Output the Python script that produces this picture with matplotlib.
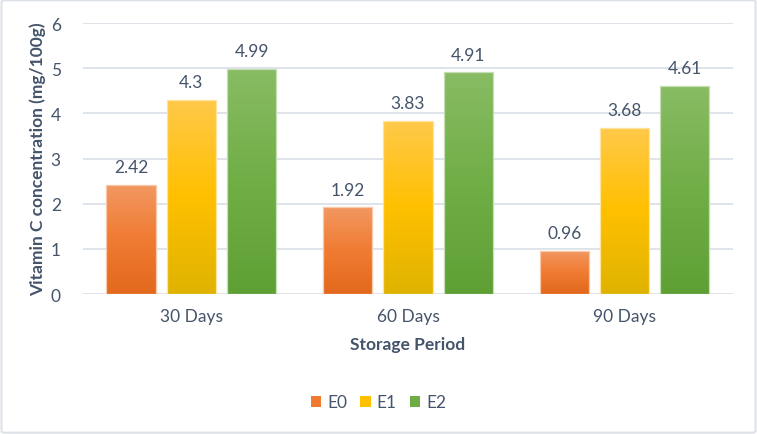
import matplotlib
matplotlib.use("Agg")
import matplotlib.pyplot as plt
import numpy as np
from matplotlib.colors import LinearSegmentedColormap
from matplotlib.patches import FancyBboxPatch, Patch

categories = ["30 Days", "60 Days", "90 Days"]
series_names = ["E0", "E1", "E2"]
E0 = [2.42, 1.92, 0.96]
E1 = [4.3, 3.83, 3.68]
E2 = [4.99, 4.91, 4.61]
values = [E0, E1, E2]
yticks = [0, 1, 2, 3, 4, 5, 6]

grad_colors = [
    ["#F29862", "#F07B32", "#E2691D"],
    ["#FFC94A", "#FFC000", "#DFB300"],
    ["#89BC64", "#70AE46", "#5FA035"],
]
legend_colors = ["#F07A30", "#FFC000", "#6EAC46"]
edge_colors = ["#F8C8A8", "#FFE3A0", "#C5DEB4"]

TEXT = "#44546A"
GRID = "#DCE1E8"

plt.rcParams['font.family'] = ['Lato', 'DejaVu Sans']

fig = plt.figure(figsize=(7.57, 4.35), dpi=100)
fig.patch.set_facecolor("white")
border = FancyBboxPatch((0.002, 0.003), 0.996, 0.994, boxstyle="round,pad=0,rounding_size=0.004",
                        transform=fig.transFigure, facecolor="none", edgecolor="#DDE2E9", linewidth=1.5)
fig.patches.append(border)

ax = fig.add_axes([0.1096, 0.3218, 0.8587, 0.623])
x = np.arange(len(categories))
width = 0.227
step = 0.278

grad = np.linspace(1, 0, 256).reshape(-1, 1)
for i, (name, vals) in enumerate(zip(series_names, values)):
    offs = (i - 1) * step
    cmap = LinearSegmentedColormap.from_list(name, grad_colors[i][::-1])
    bars = ax.bar(x + offs, vals, width, color=legend_colors[i], edgecolor=edge_colors[i],
                  linewidth=0.9, zorder=3, label=name)
    for b, v in zip(bars, vals):
        x0, y0 = b.get_x(), b.get_y()
        im = ax.imshow(grad, extent=[x0, x0 + b.get_width(), y0, y0 + b.get_height()],
                       aspect='auto', cmap=cmap, vmin=0, vmax=1, zorder=3.5, origin='upper')
        im.set_clip_path(b)
        ax.annotate(f"{v:g}", (b.get_x() + b.get_width() / 2, v), xytext=(0, 7),
                    textcoords="offset points", ha="center", va="bottom",
                    fontsize=12.5, color=TEXT)
    for b in bars:
        b.set_facecolor("none")
        b.set_zorder(4)

ax.set_xlim(-0.5, 2.5)
ax.set_ylim(0, 6)
ax.set_yticks(yticks)
ax.set_xticks(x)
ax.set_xticklabels(categories)
ax.tick_params(axis='both', length=0, labelsize=12.5, labelcolor=TEXT)
ax.tick_params(axis='y', pad=16)
ax.tick_params(axis='x', pad=10)
ax.yaxis.grid(True, color=GRID, linewidth=1.3, zorder=0)
ax.set_axisbelow(True)
for s in ax.spines.values():
    s.set_visible(False)

ax.set_xlabel("Storage Period", fontsize=12.5, fontweight="bold", color=TEXT, labelpad=9)
ax.set_ylabel("Vitamin C concentration (mg/100g)", fontsize=12.5, fontweight="bold", color=TEXT)
ax.yaxis.set_label_coords(-0.057, 0.5)

handles = [Patch(facecolor=c, edgecolor="none") for c in legend_colors]
fig.legend(handles, series_names, loc="center", bbox_to_anchor=(0.5, 0.073), ncol=3, frameon=False,
           fontsize=12.5, labelcolor=TEXT, handlelength=0.6, handleheight=0.6,
           handletextpad=0.35, columnspacing=0.75)

fig.savefig("out.png", dpi=100, facecolor="white")
